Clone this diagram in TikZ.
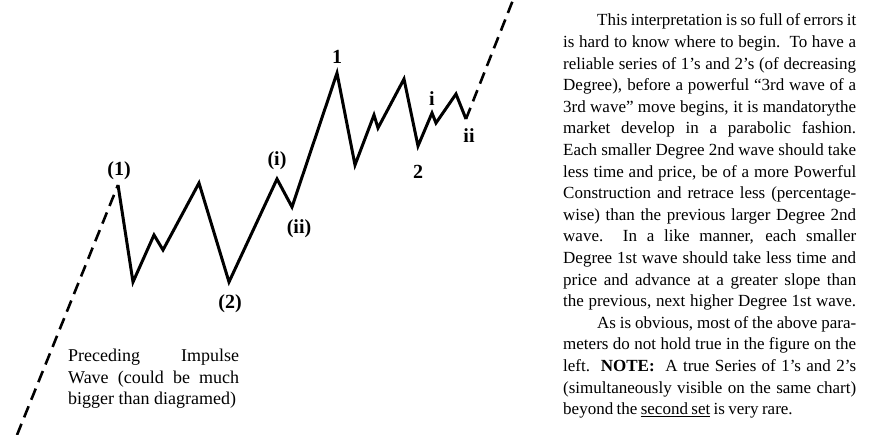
\documentclass[tikz,border=0pt]{standalone}
\usepackage{fontspec}
\setmainfont{Liberation Serif}
\usetikzlibrary{calc}

% justified text lines
\newcommand{\jl}[1]{\makebox[\linewidth][s]{#1}}
\newcommand{\jlind}[1]{\hspace*{34pt}\makebox[\dimexpr\linewidth-34pt\relax][s]{#1}}
\newcommand{\tightspace}{\spaceskip=0.2em plus 3em minus 0.05em\relax}
\newcommand{\loosespace}{\spaceskip=0.25em plus 3em minus 0.05em\relax}

\begin{document}
\begin{tikzpicture}[x=1pt, y=-1pt]

    % page frame
    \useasboundingbox (0,0) rectangle (881,435);

    \tikzset{
        wave/.style={line width=3pt, line join=miter},
        ext/.style={line width=2.6pt, dash pattern=on 12pt off 7pt},
        lbl/.style={font=\fontsize{20}{22}\selectfont\bfseries, inner sep=0pt},
        notes/.style={inner sep=0pt, anchor=base west, align=left}
    }

    % Wave points
    \coordinate (w0) at (17,435);
    \coordinate (w1) at (118,185);  % (1)
    \coordinate (w2) at (133,282);
    \coordinate (w3) at (154,235);
    \coordinate (w4) at (163,250);
    \coordinate (w5) at (199,183);
    \coordinate (w6) at (229,282);  % (2)
    \coordinate (w7) at (277,179);  % (i)
    \coordinate (w8) at (292,207);  % (ii)
    \coordinate (w9) at (337,73);   % 1
    \coordinate (w10) at (355,165);
    \coordinate (w11) at (374,115);
    \coordinate (w12) at (378,128);
    \coordinate (w13) at (404,79);
    \coordinate (w14) at (418,146); % 2
    \coordinate (w15) at (432,113); % i
    \coordinate (w16) at (436,123);
    \coordinate (w17) at (456,94);
    \coordinate (w18) at (466,119); % ii
    \coordinate (w19) at (513,0);

    % Preceding impulse and extension
    \draw[ext] (w0) -- (w1);
    \draw[ext] (w18) -- (w19);

    % The wave itself
    \draw[wave] (w1) -- (w2) -- (w3) -- (w4) -- (w5) -- (w6) -- (w7) -- (w8) -- (w9)
        -- (w10) -- (w11) -- (w12) -- (w13) -- (w14) -- (w15) -- (w16) -- (w17) -- (w18);

    % Wave labels
    \node[lbl] (lab1) at ($(w1)+(1,-14)$) {(1)};
    \node[lbl] (lab2) at ($(w6)+(1,22)$) {(2)};
    \node[lbl] (labi) at ($(w7)+(0,-18)$) {(i)};
    \node[lbl] (labii) at ($(w8)+(7,22)$) {(ii)};
    \node[lbl] (labone) at ($(w9)+(0,-16)$) {1};
    \node[lbl] (labtwo) at ($(w14)+(0,26)$) {2};
    \node[lbl] (labsi) at ($(w15)+(0,-14)$) {i};
    \node[lbl] (labsii) at ($(w18)+(3,17)$) {ii};

    % Note under the wave
    \node[notes, text width=171pt, font=\fontsize{18}{21.5}\selectfont] (prec) at (68,362) {\loosespace
        \jl{Preceding\hfill Impulse}\\
        \jl{Wave (could be much}\\
        bigger than diagramed)};

    % Comment on the right
    \node[notes, text width=293pt, font=\fontsize{17}{21.6}\selectfont] (comment) at (563,26) {\tightspace
        \jlind{This interpretation is so full of errors it}\\
        \jl{is hard to know where to begin.\ \ To have a}\\
        \jl{reliable series of 1’s and 2’s (of decreasing}\\
        \jl{Degree), before a powerful “3rd wave of a}\\
        \jl{3rd wave” move begins, it is mandatorythe}\\
        \jl{market develop in a parabolic fashion.}\\
        \jl{Each smaller Degree 2nd wave should take}\\
        \jl{less time and price, be of a more Powerful}\\
        \jl{Construction and retrace less (percentage-}\\
        \jl{wise) than the previous larger Degree 2nd}\\
        \jl{wave.\ \ In a like manner, each smaller}\\
        \jl{Degree 1st wave should take less time and}\\
        \jl{price and advance at a greater slope than}\\
        \jl{the previous, next higher Degree 1st wave.}\\
        \jlind{As is obvious, most of the above para-}\\
        \jl{meters do not hold true in the figure on the}\\
        \jl{left.\ \ \textbf{NOTE:}\ \ A true Series of 1’s and 2’s}\\
        \jl{(simultaneously visible on the same chart)}\\
        beyond the \underline{second set} is very rare.};

\end{tikzpicture}
\end{document}
